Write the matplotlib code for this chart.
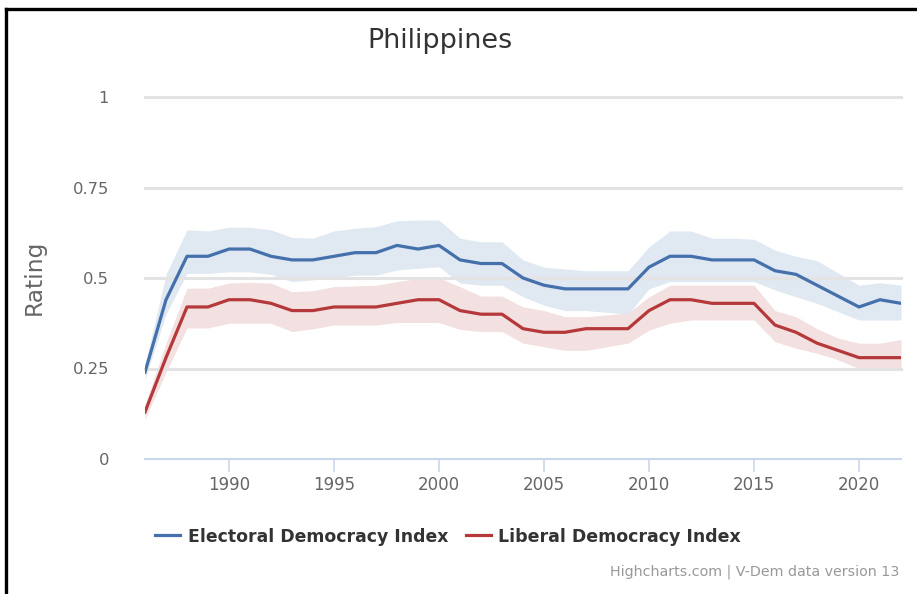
import matplotlib
matplotlib.use("Agg")
import matplotlib.pyplot as plt
from matplotlib.lines import Line2D

plt.rcParams['font.family'] = ['DejaVu Sans']

years = list(range(1986, 2023))

edi = [0.24, 0.44, 0.56, 0.56, 0.58, 0.58, 0.56, 0.55, 0.55, 0.56, 0.57, 0.57, 0.59, 0.58, 0.59,
       0.55, 0.54, 0.54, 0.50, 0.48, 0.47, 0.47, 0.47, 0.47, 0.53, 0.56, 0.56, 0.55, 0.55, 0.55,
       0.52, 0.51, 0.48, 0.45, 0.42, 0.44, 0.43]
edi_hi = [0.26, 0.51, 0.633, 0.63, 0.64, 0.64, 0.633, 0.612, 0.61, 0.63, 0.637, 0.642, 0.658, 0.66, 0.66,
          0.61, 0.60, 0.60, 0.55, 0.53, 0.525, 0.52, 0.52, 0.52, 0.586, 0.63, 0.63, 0.61, 0.61, 0.607,
          0.577, 0.56, 0.548, 0.514, 0.48, 0.487, 0.48]
edi_lo = [0.22, 0.40, 0.513, 0.513, 0.517, 0.517, 0.51, 0.49, 0.495, 0.50, 0.508, 0.508, 0.522, 0.527, 0.531,
          0.486, 0.48, 0.48, 0.448, 0.425, 0.41, 0.41, 0.405, 0.40, 0.47, 0.49, 0.49, 0.49, 0.49, 0.49,
          0.467, 0.448, 0.43, 0.407, 0.384, 0.384, 0.384]

ldi = [0.13, 0.28, 0.42, 0.42, 0.44, 0.44, 0.43, 0.41, 0.41, 0.42, 0.42, 0.42, 0.43, 0.44, 0.44,
       0.41, 0.40, 0.40, 0.36, 0.35, 0.35, 0.36, 0.36, 0.36, 0.41, 0.44, 0.44, 0.43, 0.43, 0.43,
       0.37, 0.35, 0.32, 0.30, 0.28, 0.28, 0.28]
ldi_hi = [0.15, 0.32, 0.472, 0.472, 0.486, 0.488, 0.486, 0.462, 0.465, 0.476, 0.478, 0.48, 0.49, 0.499, 0.50,
          0.476, 0.45, 0.45, 0.42, 0.41, 0.393, 0.393, 0.398, 0.403, 0.448, 0.48, 0.48, 0.48, 0.48, 0.48,
          0.41, 0.393, 0.36, 0.334, 0.32, 0.32, 0.33]
ldi_lo = [0.11, 0.24, 0.362, 0.362, 0.375, 0.375, 0.375, 0.352, 0.36, 0.37, 0.37, 0.37, 0.377, 0.377, 0.377,
          0.358, 0.352, 0.352, 0.32, 0.31, 0.30, 0.30, 0.31, 0.32, 0.356, 0.375, 0.384, 0.384, 0.384, 0.384,
          0.324, 0.306, 0.292, 0.274, 0.25, 0.245, 0.245]

yticks = [0, 0.25, 0.5, 0.75, 1]
ytick_labels = ["0", "0.25", "0.5", "0.75", "1"]
xticks = [1990, 1995, 2000, 2005, 2010, 2015, 2020]

title = "Philippines"
ylabel = "Rating"
series_names = ["Electoral Democracy Index", "Liberal Democracy Index"]
credits = "Highcharts.com | V-Dem data version 13"

blue = "#4470ab"
red = "#b5393b"
blue_band = "#e0e8f2"
red_band = "#f3e0e0"

W, H = 917, 594
fig = plt.figure(figsize=(W / 100, H / 100), dpi=100)
renderer = fig.canvas.get_renderer()


def size_for_width(s, target_px, weight="normal", base=12.0):
    t = fig.text(0, 0, s, fontsize=base, weight=weight)
    w = t.get_window_extent(renderer).width
    t.remove()
    return base * target_px / w


def fx(px):
    return px / W


def fy(py):
    return 1 - py / H


ax = fig.add_axes([fx(145), fy(459), (901 - 145) / W, (459 - 97) / H])

ax.fill_between(years, edi_lo, edi_hi, color=blue_band, lw=0, zorder=1)
ax.fill_between(years, ldi_lo, ldi_hi, color=red_band, lw=0, zorder=1)
ax.plot(years, edi, color=blue, lw=2.3, zorder=3, solid_joinstyle='round')
ax.plot(years, ldi, color=red, lw=2.3, zorder=3, solid_joinstyle='round')

ax.set_xlim(1986, 2022)
ax.set_ylim(0, 1)
for v in yticks[1:]:
    ax.axhline(v, color="#e3e3e3", lw=2.2, zorder=2, clip_on=False)

for s in ["top", "right", "left"]:
    ax.spines[s].set_visible(False)
ax.spines["bottom"].set_color("#ccd6eb")
ax.spines["bottom"].set_linewidth(1.5)
ax.spines["bottom"].set_zorder(2)

tick_size = size_for_width("1990", 42)
ax.set_yticks(yticks)
ax.set_yticklabels(ytick_labels)
ax.tick_params(axis="y", length=0, pad=26, labelsize=size_for_width("0.75", 36), labelcolor="#666666")
ax.set_xticks(xticks)
ax.set_xticklabels([str(x) for x in xticks])
ax.tick_params(axis="x", length=9, width=1.2, color="#ccd6eb", pad=3, labelsize=tick_size, labelcolor="#666666")

fig.text(fx(34), fy(277), ylabel, rotation=90, ha="center", va="center",
         fontsize=size_for_width(ylabel, 75), color="#666666")
fig.text(fx(439.5), fy(41), title, ha="center", va="center",
         fontsize=size_for_width(title, 145), color="#333333")

# legend
leg_y = fy(535)
leg_items = [(155, 180, 188, 447, blue, series_names[0]), (466, 491, 498, 740, red, series_names[1])]
for x0, x1, tx0, tx1, col, name in leg_items:
    fig.add_artist(Line2D([fx(x0), fx(x1)], [leg_y, leg_y], color=col, lw=2.3, transform=fig.transFigure))
    fig.text(fx(tx0), leg_y, name, ha="left", va="center_baseline", weight="bold", color="#333333",
             fontsize=size_for_width(name, tx1 - tx0, weight="bold"))

fig.text(fx(899), fy(572), credits, ha="right", va="center", color="#999999",
         fontsize=size_for_width(credits, 289))

# frame lines of the screenshot
fig.add_artist(Line2D([fx(5.5), fx(5.5)], [0, fy(9)], color="black", lw=2.4, transform=fig.transFigure))
fig.add_artist(Line2D([fx(5.5), 1], [fy(9), fy(9)], color="black", lw=2.4, transform=fig.transFigure))

fig.savefig("out.png", dpi=100)
